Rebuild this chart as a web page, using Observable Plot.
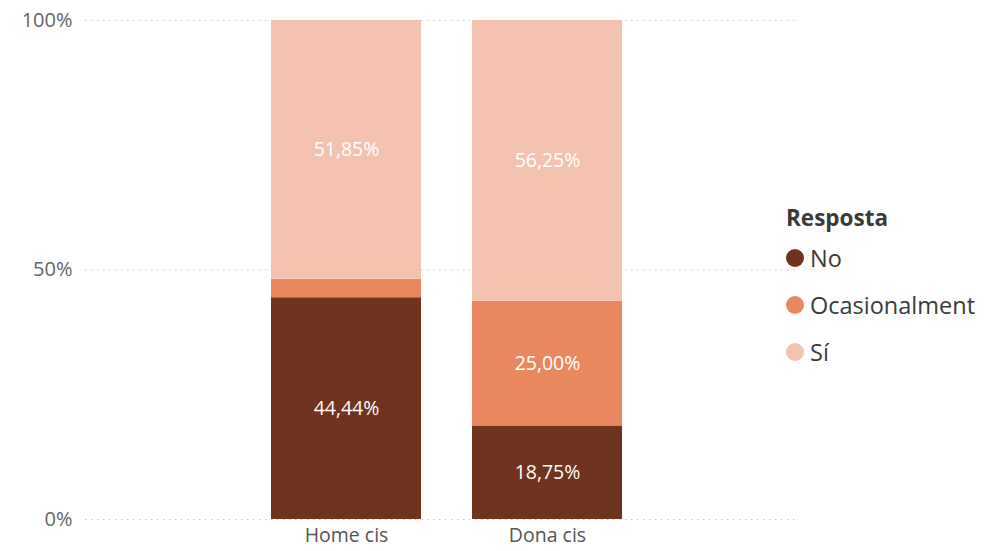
<!DOCTYPE html>
<html>
<head>
<meta charset="utf-8">
<script src="https://cdn.jsdelivr.net/npm/d3@7"></script>
<script src="https://cdn.jsdelivr.net/npm/@observablehq/plot@0.6"></script>
<style>
  body { margin: 0; background: #fff; font-family: "Open Sans", "Noto Sans", sans-serif; }
  #wrap { position: relative; width: 997px; height: 551px; }
  #legend { position: absolute; left: 786px; top: 201px; color: #333; }
  #legend .title { font-weight: bold; font-size: 22.5px; color: #3b3a39; line-height: 34px; margin-bottom: -1px; }
  #legend .item { display: flex; align-items: center; font-size: 23.5px; height: 47px; color: #3b3a39; }
  #legend .sw { width: 18px; height: 18px; border-radius: 50%; margin-left: 0px; margin-right: 6px; }
</style>
</head>
<body>
<div id="wrap"></div>
<script>
const categories = ["Home cis", "Dona cis"];
const responses = ["No", "Ocasionalment", "Sí"];
const colors = ["#70331d", "#e9885e", "#f4c3af"];
const noValues = [44.44, 18.75];
const ocasValues = [3.71, 25.00];
const siValues = [51.85, 56.25];
const yTicks = [0, 50, 100];
const legendTitle = "Resposta";

const series = [noValues, ocasValues, siValues];
const data = [];
responses.forEach((r, i) => {
  categories.forEach((c, j) => data.push({ cat: c, resp: r, value: series[i][j] }));
});
const fmt = v => v.toFixed(2).replace(".", ",") + "%";

const chart = Plot.plot({
  width: 997,
  height: 551,
  marginLeft: 85,
  marginRight: 202,
  marginTop: 20,
  marginBottom: 32,
  style: { fontFamily: "'Open Sans', 'Noto Sans', sans-serif", background: "#fff" },
  x: { domain: categories, range: [219, 674], padding: 0.2525, label: null },
  y: { domain: [0, 100], label: null },
  color: { domain: responses, range: colors },
  marks: [
    Plot.ruleY(yTicks, { stroke: "#c8c8c8", strokeDasharray: "1.5,4.5", strokeWidth: 1.2 }),
    Plot.barY(data, { x: "cat", y: "value", fill: "resp", order: responses }),
    Plot.text(data, Plot.stackY({
      x: "cat", y: "value", z: "resp", order: responses,
      text: d => d.value > 10 ? fmt(d.value) : "", fill: "white", fontSize: 19.5
    })),
    Plot.axisY({ ticks: yTicks, tickSize: 0, tickPadding: 13, tickFormat: d => d + "%", fontSize: 20, fill: "#666", label: null }),
    Plot.axisX({ tickSize: 0, tickPadding: 9, fontSize: 19.5, fill: "#555", label: null })
  ]
});
document.getElementById("wrap").appendChild(chart);

const legend = document.createElement("div");
legend.id = "legend";
legend.innerHTML = `<div class="title">${legendTitle}</div>` +
  responses.map((r, i) => `<div class="item"><span class="sw" style="background:${colors[i]}"></span>${r}</div>`).join("");
document.getElementById("wrap").appendChild(legend);
</script>
</body>
</html>
